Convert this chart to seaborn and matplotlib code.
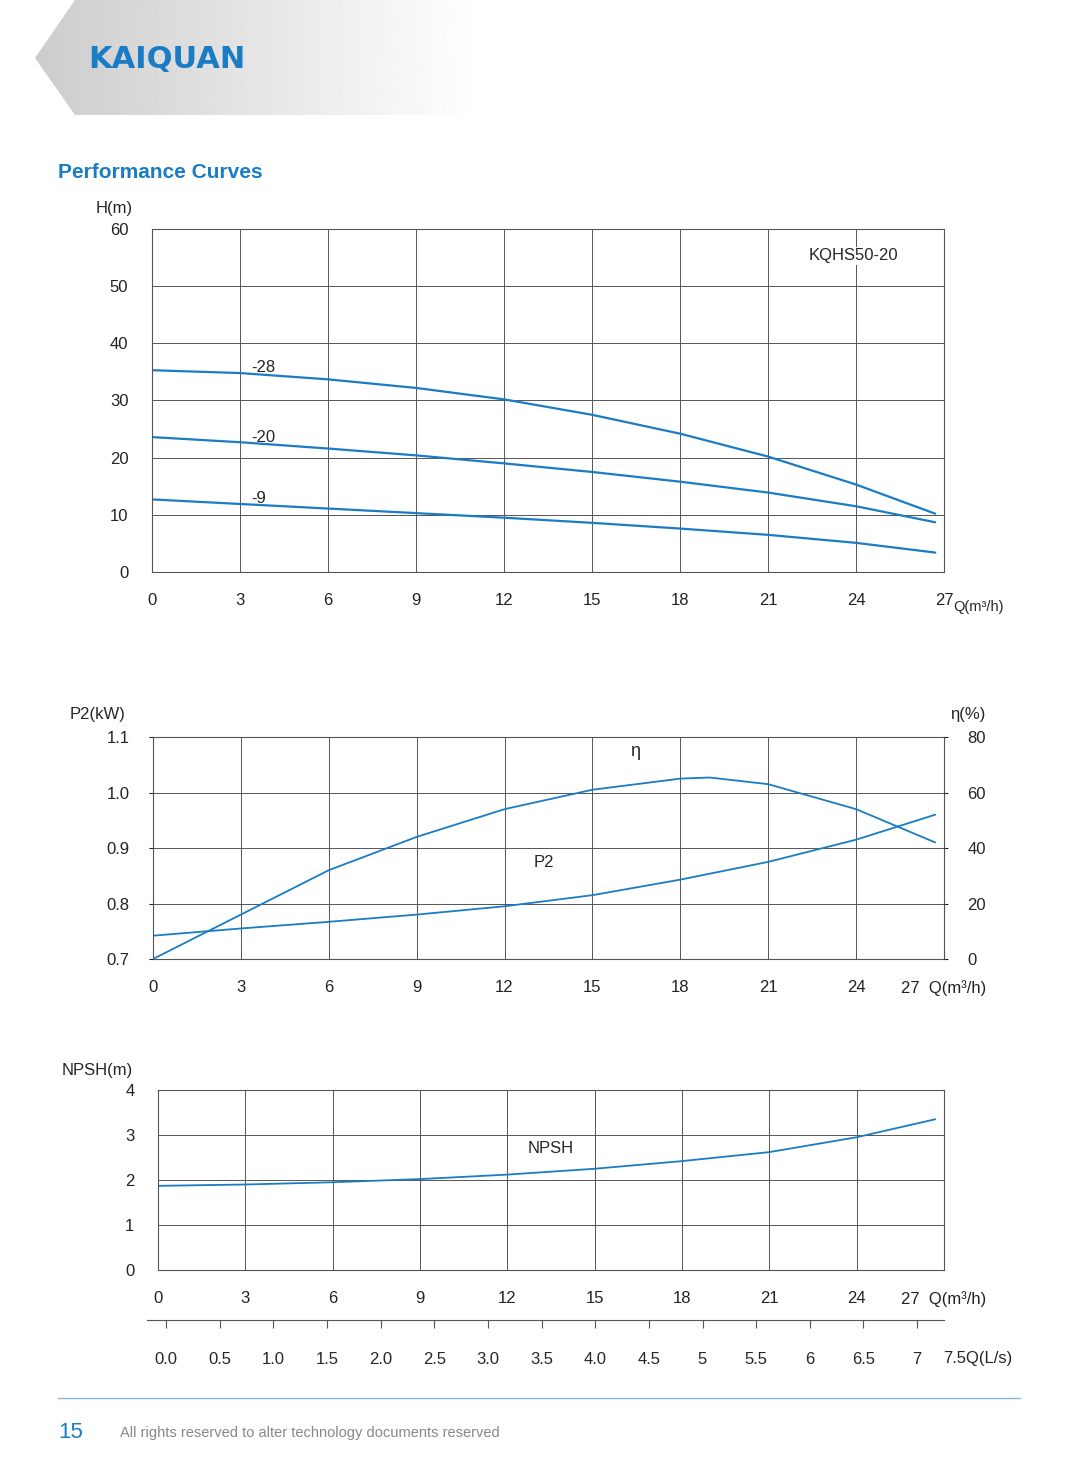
import numpy as np
import matplotlib
matplotlib.use("Agg")
import matplotlib.pyplot as plt
import seaborn as sns
import pandas as pd
from matplotlib.patches import Polygon

sns.set_style("white")
plt.rcParams['font.family'] = ['Liberation Sans', 'DejaVu Sans']

Q = [0, 3, 6, 9, 12, 15, 18, 21, 24, 26.7]
H28 = [35.3, 34.8, 33.7, 32.2, 30.2, 27.5, 24.2, 20.2, 15.3, 10.2]
H20 = [23.6, 22.7, 21.6, 20.4, 19.0, 17.5, 15.8, 13.9, 11.5, 8.7]
H9 = [12.7, 11.9, 11.1, 10.3, 9.5, 8.6, 7.6, 6.5, 5.1, 3.4]
P2 = [0.742, 0.755, 0.767, 0.780, 0.795, 0.815, 0.843, 0.875, 0.915, 0.960]
Qe = [0, 3, 6, 9, 12, 15, 18, 19, 21, 24, 26.7]
ETA = [0, 16, 32, 44, 54, 61, 65, 65.4, 63, 54, 42]
NPSH = [1.87, 1.90, 1.95, 2.02, 2.12, 2.25, 2.42, 2.62, 2.95, 3.35]
qticks = [0, 3, 6, 9, 12, 15, 18, 21, 24, 27]
ls_ticks = [0.0, 0.5, 1.0, 1.5, 2.0, 2.5, 3.0, 3.5, 4.0, 4.5, 5, 5.5, 6, 6.5, 7]
ls_labels = ["0.0", "0.5", "1.0", "1.5", "2.0", "2.5", "3.0", "3.5", "4.0", "4.5", "5", "5.5", "6", "6.5", "7"]

BLUE = "#1a7cc4"
W, Hh = 1065, 1477
FS = 12
fig = plt.figure(figsize=(W/100, Hh/100), dpi=100)

def ax_px(x0, y0, x1, y1):
    return fig.add_axes([x0/W, 1-y1/Hh, (x1-x0)/W, (y1-y0)/Hh])

bg = fig.add_axes([0, 0, 1, 1]); bg.set_xlim(0, W); bg.set_ylim(Hh, 0); bg.axis('off')
grad = np.linspace(0.80, 1.0, 256).reshape(1, -1)
im = bg.imshow(grad, cmap='gray', vmin=0, vmax=1, extent=[35, 480, 115, 0], aspect='auto', zorder=0)
poly = Polygon([[75, 0], [480, 0], [480, 115], [75, 115], [35, 58]], closed=True, transform=bg.transData)
im.set_clip_path(poly)
bg.text(88, 60, "KAIQUAN", color=BLUE, fontsize=22, fontweight='bold', va='center', family=['DejaVu Sans'])
bg.text(58, 173, "Performance Curves", color=BLUE, fontsize=15, fontweight='bold', va='center')
bg.plot([58, 1020], [1398, 1398], color="#7fb6e0", lw=1)
bg.text(58, 1432, "15", color=BLUE, fontsize=16, va='center')
bg.text(120, 1433, "All rights reserved to alter technology documents reserved", color="#888888", fontsize=10.5, va='center')

def style(ax):
    ax.grid(True, color="#555555", lw=0.7)
    for s in ax.spines.values():
        s.set_color("#555555"); s.set_linewidth(0.8)
    ax.tick_params(labelsize=FS, length=3, colors="#222222")
    ax.tick_params(axis='x', pad=12)
    ax.tick_params(axis='y', pad=14)

ax1 = ax_px(152, 229, 944, 572)
dfh = pd.DataFrame({"Q": Q * 3, "H": H28 + H20 + H9, "c": ["-28"]*10 + ["-20"]*10 + ["-9"]*10})
sns.lineplot(data=dfh, x="Q", y="H", units="c", estimator=None, color=BLUE, lw=1.6, ax=ax1)
ax1.set_xlim(0, 27); ax1.set_ylim(0, 60)
ax1.set_xticks(qticks); ax1.set_yticks(range(0, 61, 10))
ax1.set_yticks(range(5, 60, 10), minor=True)
ax1.tick_params(which='minor', length=3)
style(ax1)
ax1.set_xlabel(""); ax1.set_ylabel("")
ax1.text(3.4, 35.0, "-28", fontsize=FS); ax1.text(3.4, 22.8, "-20", fontsize=FS); ax1.text(3.4, 12.1, "-9", fontsize=FS)
ax1.text(22.4, 54.5, "KQHS50-20", fontsize=FS, bbox=dict(facecolor='white', edgecolor='none', pad=1))
bg.text(96, 208, "H(m)", fontsize=FS, va='center')
bg.text(953, 607, "Q(m³/h)", fontsize=10.5, va='center')

ax2 = ax_px(153, 737, 944, 959)
sns.lineplot(x=Q, y=P2, color=BLUE, lw=1.3, ax=ax2)
ax2.set_xlim(0, 27); ax2.set_ylim(0.7, 1.1)
ax2.set_xticks(qticks); ax2.set_yticks([0.7, 0.8, 0.9, 1.0, 1.1])
ax2.set_yticklabels(["0.7", "0.8", "0.9", "1.0", "1.1"])
style(ax2)
ax2b = ax2.twinx()
sns.lineplot(x=Qe, y=ETA, color=BLUE, lw=1.3, ax=ax2b)
ax2b.set_ylim(0, 80); ax2b.set_yticks([0, 20, 40, 60, 80])
ax2b.tick_params(labelsize=FS, length=3, pad=14)
for s in ax2b.spines.values(): s.set_visible(False)
ax2.set_xticklabels([str(t) for t in qticks[:-1]] + ["27  Q(m³/h)"])
ax2.text(13, 0.865, "P2", fontsize=FS)
ax2.text(16.3, 1.065, "η", fontsize=13)
bg.text(70, 714, "P2(kW)", fontsize=FS, va='center')
bg.text(950, 714, "η(%)", fontsize=FS, va='center')

ax3 = ax_px(158, 1090, 944, 1270)
sns.lineplot(x=Q, y=NPSH, color=BLUE, lw=1.3, ax=ax3)
ax3.set_xlim(0, 27); ax3.set_ylim(0, 4)
ax3.set_xticks(qticks); ax3.set_yticks(range(0, 5))
style(ax3)
ax3.set_xticklabels([str(t) for t in qticks[:-1]] + ["27  Q(m³/h)"])
ax3.text(12.7, 2.6, "NPSH", fontsize=FS)
bg.text(62, 1070, "NPSH(m)", fontsize=FS, va='center')

ax4 = ax_px(147, 1320, 944, 1330)
for k in ['left', 'right', 'bottom']: ax4.spines[k].set_visible(False)
ax4.spines['top'].set_color("#555555")
ax4.set_yticks([])
ax4.set_xlim(-19/107.3, 778/107.3)
ax4.xaxis.tick_top()
ax4.set_xticks(ls_ticks); ax4.set_xticklabels([])
ax4.tick_params(axis='x', direction='in', length=6, colors="#555555")
for t, l in zip(ls_ticks, ls_labels):
    ax4.text(t, -2.9, l, ha='center', va='center', fontsize=FS, transform=ax4.get_xaxis_transform())
bg.text(943, 1359, "7.5Q(L/s)", fontsize=FS, va='center')

fig.savefig("out.png", dpi=100)
